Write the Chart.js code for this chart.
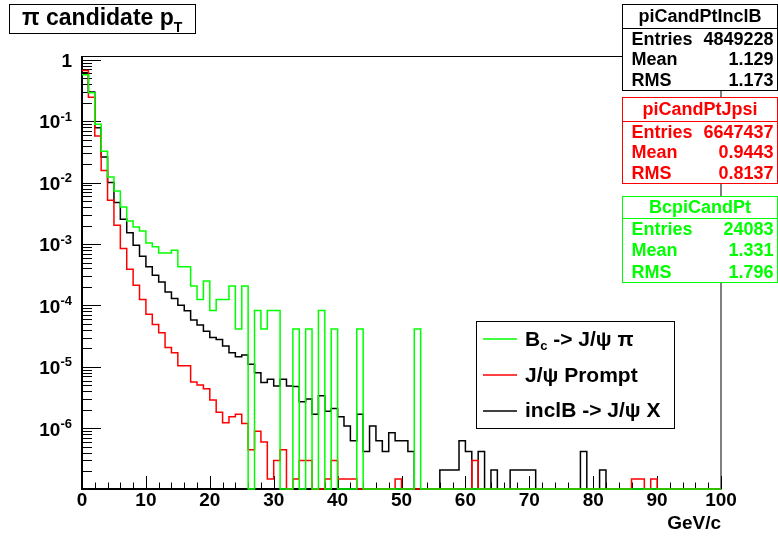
<!DOCTYPE html>
<html>
<head>
<meta charset="utf-8">
<script src="https://cdn.jsdelivr.net/npm/chart.js@4"></script>
<style>
    html, body { margin: 0; padding: 0; background: #fff; }
    canvas { display: block; }
</style>
</head>
<body>
<canvas id="ptChart" width="778" height="539"></canvas>
<script>
// normalised bin contents, 1 GeV/c bins from 0 to 100 (bin i = [i, i+1])
const inclB = [
    0.615, 0.297, 0.0784, 0.026, 0.0100, 0.00473, 0.00253, 0.00152, 0.000955, 0.000634,
    0.000425, 0.000311, 0.000242, 0.000166, 0.000130, 0.000101, 8.2e-5, 5.8e-5, 4.8e-5, 3.8e-5,
    3.0e-5, 2.8e-5, 2.2e-5, 1.7e-5, 1.46e-5, 1.57e-5, 1.11e-5, 8.0e-6, 5.6e-6, 6.3e-6,
    4.9e-6, 6.3e-6, 4.9e-6, 4.8e-6, 2.7e-6, 3.0e-6, 1.69e-6, 3.4e-6, 1.9e-6, 2.1e-6,
    1.55e-6, 1.09e-6, 6.3e-7, 1.69e-6, 4.2e-7, 1.09e-6, 6.3e-7, 4.2e-7, 8.5e-7, 6.3e-7,
    6.3e-7, 4.2e-7, 0, 0, 0, 0, 2.1e-7, 2.1e-7, 2.1e-7, 6.3e-7,
    4.2e-7, 0, 4.2e-7, 0, 2.1e-7, 0, 0, 2.1e-7, 2.1e-7, 2.1e-7,
    2.1e-7, 0, 0, 0, 0, 0, 0, 0, 4.2e-7, 0,
    0, 2.1e-7, 0, 0, 0, 0, 0, 0, 0, 0,
    0, 0, 0, 0, 0, 0, 0, 0, 0, 0
];
const jpsiPrompt = [
    0.67, 0.246, 0.0573, 0.0158, 0.00515, 0.00202, 0.000845, 0.000389, 0.000214, 0.000125,
    7.2e-5, 4.9e-5, 3.6e-5, 2.07e-5, 1.7e-5, 1.04e-5, 1.04e-5, 5.7e-6, 5.06e-6, 4.4e-6,
    2.9e-6, 1.82e-6, 1.23e-6, 1.55e-6, 1.7e-6, 1.2e-6, 4.5e-7, 9.0e-7, 6.0e-7, 1.5e-7,
    3.0e-7, 4.5e-7, 0, 1.5e-7, 3.0e-7, 3.0e-7, 0, 0, 1.5e-7, 3.0e-7,
    1.5e-7, 1.5e-7, 1.5e-7, 0, 0, 0, 0, 0, 0, 1.5e-7,
    0, 0, 0, 0, 0, 0, 0, 0, 0, 0,
    0, 3.0e-7, 0, 0, 0, 0, 0, 0, 0, 0,
    0, 0, 0, 0, 0, 0, 0, 0, 0, 0,
    0, 0, 0, 0, 0, 0, 1.5e-7, 1.5e-7, 0, 1.5e-7,
    0, 0, 0, 0, 0, 0, 0, 0, 0, 0
];
const bcPi = [
    0.57, 0.29, 0.0887, 0.0323, 0.0123, 0.0073, 0.0040, 0.00238, 0.0019, 0.00163,
    0.00104, 0.0009, 0.000716, 0.000716, 0.000793, 0.000425, 0.000425, 0.000208, 0.000125, 0.00025,
    8.3e-5, 0.000125, 0.000125, 0.000208, 4.15e-5, 0.000208, 0, 8.3e-5, 4.15e-5, 8.3e-5,
    8.3e-5, 0, 0, 4.15e-5, 0, 4.15e-5, 0, 8.3e-5, 0, 4.15e-5,
    0, 0, 0, 4.15e-5, 0, 0, 0, 0, 0, 0,
    0, 0, 4.15e-5, 0, 0, 0, 0, 0, 0, 0,
    0, 0, 0, 0, 0, 0, 0, 0, 0, 0,
    0, 0, 0, 0, 0, 0, 0, 0, 0, 0,
    0, 0, 0, 0, 0, 0, 0, 0, 0, 0,
    0, 0, 0, 0, 0, 0, 0, 0, 0, 0
];

const X_MIN = 0, X_MAX = 100;
const Y_MIN = 1.03e-7, Y_MAX = 1.15;

const xTickLabels = ['0', '10', '20', '30', '40', '50', '60', '70', '80', '90', '100'];
const yTickExponents = [0, -1, -2, -3, -4, -5, -6];

// stats boxes (ROOT style)
const statNames   = ['piCandPtInclB', 'piCandPtJpsi', 'BcpiCandPt'];
const statEntries = ['4849228', '6647437', '24083'];
const statMeans   = ['1.129', '0.9443', '1.331'];
const statRms     = ['1.173', '0.8137', '1.796'];

const GREEN = '#00ff00', RED = '#ff0000', BLACK = '#000000';
const statColors = [BLACK, RED, GREEN];

// legend rows: [text, subscript] pieces
const legendRows = [
    { color: GREEN, parts: [['B', false], ['c', true], [' -> J/\u03c8 \u03c0', false]] },
    { color: RED,   parts: [['J/\u03c8 Prompt', false]] },
    { color: BLACK, parts: [['inclB -> J/\u03c8 X', false]] }
];

const FONT = '"Liberation Sans", Arial, sans-serif';

// histogram -> step points on bin low edges; empty bins sit on the axis bottom
function toSteps(values)
{
    const pts = values.map((v, i) => ({ x: X_MIN + i, y: v > 0 ? v : Y_MIN }));
    pts.push({ x: X_MAX, y: pts[pts.length - 1].y });
    return pts;
}

function drawParts(ctx, parts, x, y, size)
{
    for (const [t, sub] of parts) {
        ctx.font = 'bold ' + (sub ? Math.round(size * 0.62) : size) + 'px ' + FONT;
        ctx.fillText(t, x, sub ? y + size * 0.3 : y);
        x += ctx.measureText(t).width;
    }
}

const rootStyle = {
    id: 'rootStyle',
    beforeDatasetsDraw(chart) {
        const { ctx, chartArea: a, scales: { x, y } } = chart;
        ctx.save();
        ctx.strokeStyle = BLACK;
        ctx.lineWidth = 1;
        ctx.strokeRect(a.left, a.top + 0.5, a.right - a.left, a.bottom - a.top);

        ctx.lineWidth = 2;
        ctx.beginPath();
        ctx.moveTo(a.left, a.top);
        ctx.lineTo(a.left, a.bottom);
        ctx.lineTo(a.right, a.bottom);
        ctx.stroke();

        // ticks drawn inside the frame
        ctx.lineWidth = 1;
        ctx.beginPath();
        for (let e = -7; e <= 0; e++) {
            for (let m = 1; m <= 9; m++) {
                const v = m * Math.pow(10, e);
                if (v < Y_MIN || v > Y_MAX) continue;
                const py = Math.round(y.getPixelForValue(v)) + 0.5;
                ctx.moveTo(a.left, py);
                ctx.lineTo(a.left + (m === 1 ? 19 : 10), py);
            }
        }
        for (let t = X_MIN; t <= X_MAX; t += 2) {
            const px = Math.round(x.getPixelForValue(t)) + 0.5;
            ctx.moveTo(px, a.bottom);
            ctx.lineTo(px, a.bottom - (t % 10 === 0 ? 13 : 6.5));
        }
        ctx.stroke();

        // tick labels
        ctx.fillStyle = BLACK;
        ctx.textBaseline = 'middle';
        ctx.textAlign = 'center';
        ctx.font = 'bold 19px ' + FONT;
        xTickLabels.forEach(lab => {
            ctx.fillText(lab, x.getPixelForValue(Number(lab)), a.bottom + 12);
        });

        ctx.textAlign = 'right';
        const right = a.left - 10;
        yTickExponents.forEach(e => {
            const py = y.getPixelForValue(Math.pow(10, e));
            if (e === 0) {
                ctx.font = 'bold 19px ' + FONT;
                ctx.fillText('1', right, py + 2);
                return;
            }
            const exp = String(e);
            ctx.font = 'bold 13px ' + FONT;
            const w = ctx.measureText(exp).width;
            ctx.fillText(exp, right, py - 4);
            ctx.font = 'bold 19px ' + FONT;
            ctx.fillText('10', right - w, py + 2);
        });

        ctx.font = 'bold 19px ' + FONT;
        ctx.textAlign = 'right';
        ctx.textBaseline = 'alphabetic';
        ctx.fillText('GeV/c', a.right, 529);
        ctx.restore();
    },
    afterDraw(chart) {
        const ctx = chart.ctx;
        ctx.save();
        ctx.lineWidth = 1;

        // title box
        ctx.fillStyle = '#fff';
        ctx.fillRect(9.5, 4.5, 186, 29);
        ctx.strokeStyle = BLACK;
        ctx.strokeRect(9.5, 4.5, 186, 29);
        ctx.fillStyle = BLACK;
        ctx.textAlign = 'left';
        ctx.textBaseline = 'alphabetic';
        drawParts(ctx, [['\u03c0 candidate p', false], ['T', true]], 22, 25, 23);

        // stats boxes
        const tops = [4.5, 97.5, 196.5], seps = [28.5, 121.5, 218.5], bottoms = [90.5, 183.5, 282.5];
        statNames.forEach((name, i) => {
            const l = 622.5, r = 777.5;
            ctx.fillStyle = '#fff';
            ctx.fillRect(l, tops[i], r - l, bottoms[i] - tops[i]);
            ctx.strokeStyle = statColors[i];
            ctx.strokeRect(l, tops[i], r - l, bottoms[i] - tops[i]);
            ctx.beginPath();
            ctx.moveTo(l, seps[i]);
            ctx.lineTo(r, seps[i]);
            ctx.stroke();

            ctx.fillStyle = statColors[i];
            ctx.font = 'bold 18px ' + FONT;
            ctx.textBaseline = 'middle';
            ctx.textAlign = 'center';
            ctx.fillText(name, (l + r) / 2, (tops[i] + seps[i]) / 2 + 1);
            const rowH = (bottoms[i] - seps[i]) / 3;
            const rows = [['Entries', statEntries[i]], ['Mean', statMeans[i]], ['RMS', statRms[i]]];
            rows.forEach((row, k) => {
                const cy = seps[i] + rowH * (k + 0.5) + 1;
                ctx.textAlign = 'left';
                ctx.fillText(row[0], l + 9, cy);
                ctx.textAlign = 'right';
                ctx.fillText(row[1], r - 4, cy);
            });
        });

        // legend
        ctx.fillStyle = '#fff';
        ctx.fillRect(476.5, 321.5, 198, 107);
        ctx.strokeStyle = BLACK;
        ctx.strokeRect(476.5, 321.5, 198, 107);
        ctx.textAlign = 'left';
        ctx.textBaseline = 'middle';
        legendRows.forEach((row, k) => {
            const cy = 321.5 + 107 * (k + 0.5) / 3;
            ctx.strokeStyle = row.color;
            ctx.lineWidth = 1.5;
            ctx.beginPath();
            ctx.moveTo(483, Math.round(cy));
            ctx.lineTo(517, Math.round(cy));
            ctx.stroke();
            ctx.fillStyle = BLACK;
            drawParts(ctx, row.parts, 525, cy + 1, 21);
        });
        ctx.restore();
    }
};

const ctx = document.getElementById('ptChart').getContext('2d');
const ptChart = new Chart(ctx, {
    type: 'line',
    data: {
        datasets: [
            { label: 'Bc -> J/psi pi', data: toSteps(bcPi), borderColor: GREEN },
            { label: 'J/psi Prompt', data: toSteps(jpsiPrompt), borderColor: RED },
            { label: 'inclB -> J/psi X', data: toSteps(inclB), borderColor: BLACK }
        ]
    },
    options: {
        responsive: false,
        animation: false,
        devicePixelRatio: 1,
        layout: { padding: { left: 82, right: 57, top: 56, bottom: 50 } },
        datasets: {
            line: { stepped: true, borderWidth: 1.5, pointRadius: 0, fill: false, clip: false }
        },
        scales: {
            x: { type: 'linear', min: X_MIN, max: X_MAX, display: false },
            y: { type: 'logarithmic', min: Y_MIN, max: Y_MAX, display: false }
        },
        plugins: {
            legend: { display: false },
            tooltip: { enabled: false }
        }
    },
    plugins: [rootStyle]
});
</script>
</body>
</html>
